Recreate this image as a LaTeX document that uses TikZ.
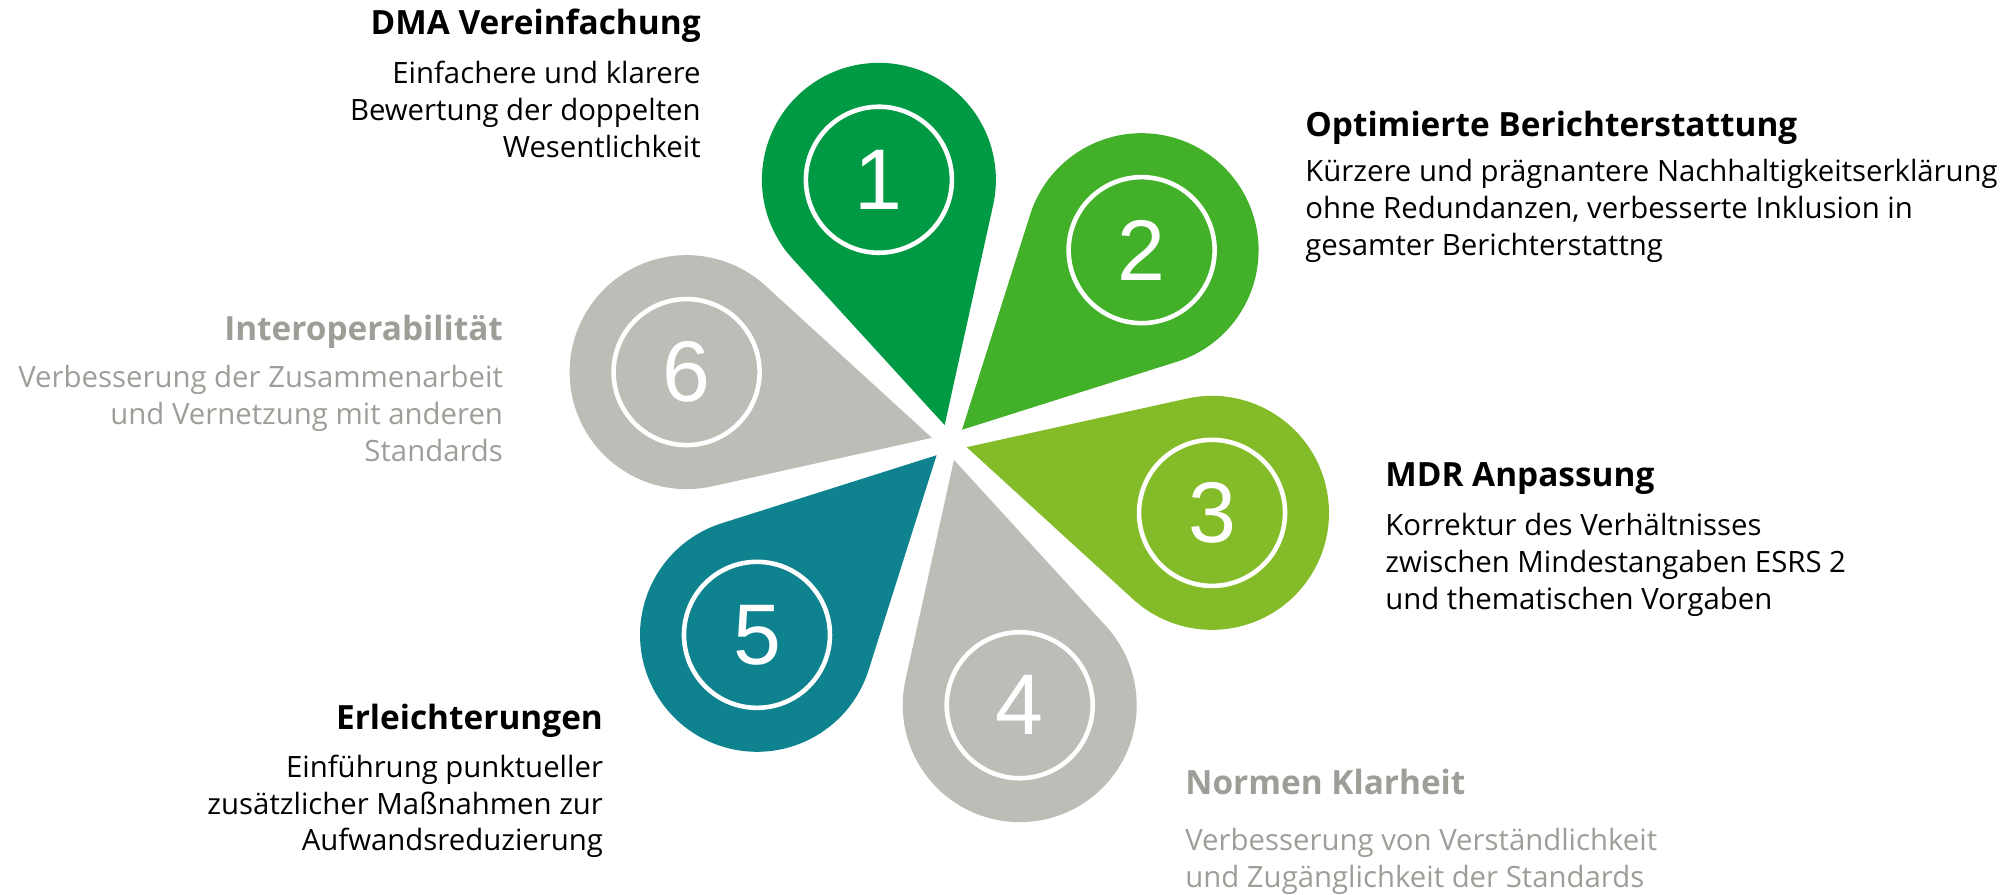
\documentclass[tikz,border=0pt]{standalone}
\usepackage{fontspec}
\setmainfont{Open Sans}
\newfontfamily\digitfont{Liberation Sans}
\usepackage{xcolor}
\usetikzlibrary{positioning}
\usetikzlibrary{calc}

\definecolor{petalone}{RGB}{0,154,68}
\definecolor{petaltwo}{RGB}{67,176,42}
\definecolor{petalthree}{RGB}{132,188,41}
\definecolor{petalgray}{RGB}{189,189,184}
\definecolor{petalteal}{RGB}{14,130,142}
\definecolor{textgray}{RGB}{158,158,152}

\tikzset{
	ring/.style={draw=white, line width=2.6pt},
	digit/.style={text=white, font=\digitfont\fontsize{49}{49}\selectfont, inner sep=0pt},
	head/.style={font=\bfseries\fontsize{19}{23}\selectfont, inner sep=0pt},
	body/.style={font=\fontsize{16.7}{21}\selectfont, inner sep=0pt},
}

\begin{document}
\begin{tikzpicture}[x=0.02cm, y=0.02cm]
			\useasboundingbox (0,0) rectangle (2013,895);
			\coordinate (centre) at (949.3,452.5);
			
			% petals
			\begin{scope}[shift={(centre)}, rotate=105]
				\fill[petalone] (18,0) -- (218.1,103.9) arc[start angle=117.4, end angle=-117.4, radius=117] -- cycle;
				\draw[ring] (272,0) circle (73);
				\node[digit] (one) at (272,0) {1};
			\end{scope}
			\begin{scope}[shift={(centre)}, rotate=45]
				\fill[petaltwo] (18,0) -- (218.1,103.9) arc[start angle=117.4, end angle=-117.4, radius=117] -- cycle;
				\draw[ring] (272,0) circle (73);
				\node[digit] (two) at (272,0) {2};
			\end{scope}
			\begin{scope}[shift={(centre)}, rotate=-15]
				\fill[petalthree] (18,0) -- (218.1,103.9) arc[start angle=117.4, end angle=-117.4, radius=117] -- cycle;
				\draw[ring] (272,0) circle (73);
				\node[digit] (three) at (272,0) {3};
			\end{scope}
			\begin{scope}[shift={(centre)}, rotate=-75]
				\fill[petalgray] (18,0) -- (218.1,103.9) arc[start angle=117.4, end angle=-117.4, radius=117] -- cycle;
				\draw[ring] (272,0) circle (73);
				\node[digit] (four) at (272,0) {4};
			\end{scope}
			\begin{scope}[shift={(centre)}, rotate=-135]
				\fill[petalteal] (18,0) -- (218.1,103.9) arc[start angle=117.4, end angle=-117.4, radius=117] -- cycle;
				\draw[ring] (272,0) circle (73);
				\node[digit] (five) at (272,0) {5};
			\end{scope}
			\begin{scope}[shift={(centre)}, rotate=165]
				\fill[petalgray] (18,0) -- (218.1,103.9) arc[start angle=117.4, end angle=-117.4, radius=117] -- cycle;
				\draw[ring] (272,0) circle (73);
				\node[digit] (six) at (272,0) {6};
			\end{scope}
			
			% labels
			\node[head, anchor=base east] (dma) at (701,860.7) {DMA Vereinfachung};
			\node[body, anchor=north east, align=right] (dmatext) at (701,834) {Einfachere und klarere\\Bewertung der doppelten\\Wesentlichkeit};
			
			\node[head, anchor=base west] (report) at (1305,758.3) {Optimierte Berichterstattung};
			\node[body, anchor=north west, align=left] (reporttext) at (1305,736.3) {Kürzere und prägnantere Nachhaltigkeitserklärung\\ohne Redundanzen, verbesserte Inklusion in\\gesamter Berichterstattng};
			
			\node[head, anchor=base west] (mdr) at (1385,408.3) {MDR Anpassung};
			\node[body, anchor=north west, align=left] (mdrtext) at (1385,382.3) {Korrektur des Verhältnisses\\zwischen Mindestangaben ESRS 2\\und thematischen Vorgaben};
			
			\node[head, anchor=base west, text=textgray] (norms) at (1185,100) {Normen Klarheit};
			\node[body, anchor=north west, align=left, text=textgray] (normstext) at (1185,67.3) {Verbesserung von Verständlichkeit\\und Zugänglichkeit der Standards};
			
			\node[head, anchor=base east] (relief) at (603.3,165.7) {Erleichterungen};
			\node[body, anchor=north east, align=right] (relieftext) at (603.3,140.6) {Einführung punktueller\\zusätzlicher Maßnahmen zur\\Aufwandsreduzierung};
			
			\node[head, anchor=base east, text=textgray] (interop) at (503.3,554.3) {Interoperabilität};
			\node[body, anchor=north east, align=right, text=textgray] (interoptext) at (503.3,530) {Verbesserung der Zusammenarbeit\\und Vernetzung mit anderen\\Standards};
			
		\end{tikzpicture}
\end{document}
